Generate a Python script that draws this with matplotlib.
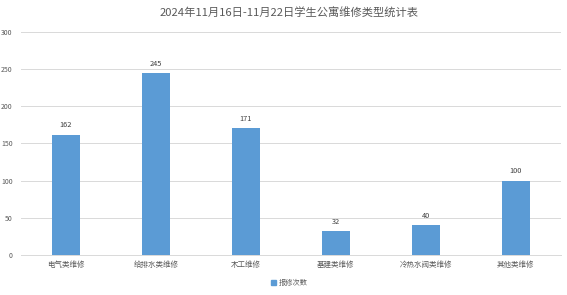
import matplotlib.pyplot as plt
from matplotlib.patches import Patch

plt.rcParams['font.family'] = ['Noto Sans CJK SC', 'DejaVu Sans']

categories = ['电气类维修', '给排水类维修', '木工维修', '基建类维修', '冷热水阀类维修', '其他类维修']
counts = [162, 245, 171, 32, 40, 100]
yticks = [0, 50, 100, 150, 200, 250, 300]

bar_color = '#5B9BD5'
text_color = '#595959'

fig = plt.figure(figsize=(5.67, 2.95), dpi=100)
ax = fig.add_axes([0.037, 0.1356, 0.952, 0.756])

x = range(len(categories))
bars = ax.bar(x, counts, width=0.31, color=bar_color, zorder=3)
for b, v in zip(bars, counts):
    ax.text(b.get_x() + b.get_width() / 2, v + 7, str(v), ha='center', va='bottom',
            fontsize=5.3, color='#404040')

ax.set_xlim(-0.5, len(categories) - 0.5)
ax.set_ylim(0, 300)
ax.set_yticks(yticks)
ax.set_xticks(list(x))
ax.set_xticklabels(categories)
ax.tick_params(axis='both', length=0, colors=text_color, labelsize=5)
ax.tick_params(axis='x', pad=4, labelsize=5.4)
ax.tick_params(axis='y', pad=6)
ax.grid(axis='y', color='#D9D9D9', linewidth=0.7, zorder=0)
for s in ['top', 'right', 'left']:
    ax.spines[s].set_visible(False)
ax.spines['bottom'].set_color('#D9D9D9')
ax.spines['bottom'].set_linewidth(0.7)

fig.suptitle('2024年11月16日-11月22日学生公寓维修类型统计表', x=0.51, y=0.975,
             fontsize=8.1, color=text_color)

fig.legend(handles=[Patch(color=bar_color, label='报修次数')], loc='center',
           bbox_to_anchor=(0.51, 0.04), frameon=False, fontsize=5.2,
           handlelength=0.7, handleheight=0.7, handletextpad=0.4, labelcolor=text_color)

fig.savefig('out.png', dpi=100)
